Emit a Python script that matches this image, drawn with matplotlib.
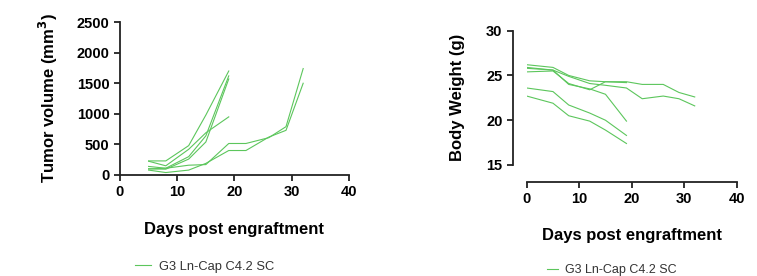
import numpy as np
import matplotlib
matplotlib.use('Agg')
import matplotlib.pyplot as plt
from matplotlib.lines import Line2D

plt.rcParams['font.family'] = ['Liberation Sans', 'DejaVu Sans']

# tumor volume (mm3), one list per mouse
tv_days_short = [5, 8, 12, 15, 19]
tv_days_long = [5, 8, 12, 15, 19, 22, 26, 29, 32]
tv_m1 = [230, 230, 480, 980, 1700]
tv_m2 = [225, 150, 420, 690, 950]
tv_m3 = [140, 110, 300, 640, 1620]
tv_m4 = [100, 95, 260, 540, 1570]
tv_m5 = [80, 40, 80, 190, 400, 400, 620, 730, 1500]
tv_m6 = [100, 110, 160, 170, 515, 515, 610, 790, 1740]

# body weight (g)
bw_days_short = [0, 5, 8, 12, 15, 19]
bw_days_long = [0, 5, 8, 12, 15, 19, 22, 26, 29, 32]
bw_m1 = [26.2, 25.9, 25.0, 24.4, 24.3, 24.3, 24.0, 24.0, 23.1, 22.6]
bw_m2 = [25.8, 25.6, 24.9, 24.1, 23.9, 23.6, 22.4, 22.7, 22.4, 21.6]
bw_m3 = [25.9, 25.6, 24.0, 23.5, 22.9, 19.9]
bw_m4 = [25.4, 25.5, 24.1, 23.4, 24.3, 24.2]
bw_m5 = [23.6, 23.2, 21.7, 20.8, 20.0, 18.3]
bw_m6 = [22.7, 21.9, 20.5, 19.9, 18.9, 17.4]

group_label = 'G3 Ln-Cap C4.2 SC'
green = '#5cc65c'

fig = plt.figure(figsize=(7.57, 2.76), dpi=100)

# left panel - tumor volume
ax1 = fig.add_axes([0.1585, 0.366, 0.3025, 0.554])
for ys in [tv_m1, tv_m2, tv_m3, tv_m4]:
    ax1.plot(tv_days_short, ys, color=green, lw=0.8)
for ys in [tv_m5, tv_m6]:
    ax1.plot(tv_days_long, ys, color=green, lw=0.8)
ax1.set_xlim(0, 40)
ax1.set_ylim(0, 2500)
ax1.set_xticks([0, 10, 20, 30, 40])
ax1.set_yticks([0, 500, 1000, 1500, 2000, 2500])
ax1.set_xlabel('Days post engraftment', fontsize=12, fontweight='bold', labelpad=16)
ax1.set_ylabel('Tumor volume (mm$^\\mathbf{3}$)', fontsize=12, fontweight='bold', labelpad=12)

# right panel - body weight
ax2 = fig.add_axes([0.6958, 0.4022, 0.2774, 0.4866])
for ys in [bw_m1, bw_m2]:
    ax2.plot(bw_days_long, ys, color=green, lw=0.8)
for ys in [bw_m3, bw_m4, bw_m5, bw_m6]:
    ax2.plot(bw_days_short, ys, color=green, lw=0.8)
ax2.set_xlim(0, 40)
ax2.set_ylim(15, 30)
ax2.set_xticks([0, 10, 20, 30, 40])
ax2.set_yticks([15, 20, 25, 30])
ax2.spines['left'].set_position(('outward', 10))
ax2.spines['bottom'].set_position(('outward', 12))
ax2.spines['left'].set_bounds(15, 30)
ax2.spines['bottom'].set_bounds(0, 40)
ax2.set_xlabel('Days post engraftment', fontsize=12, fontweight='bold', labelpad=16)
ax2.set_ylabel('Body Weight (g)', fontsize=12, fontweight='bold', labelpad=15)

for ax in [ax1, ax2]:
    for s in ['top', 'right']:
        ax.spines[s].set_visible(False)
    for s in ['left', 'bottom']:
        ax.spines[s].set_linewidth(1.3)
        ax.spines[s].set_color('#222222')
    ax.tick_params(width=1.3, length=4, labelsize=10.5, color='#222222')
    for lab in ax.get_xticklabels() + ax.get_yticklabels():
        lab.set_fontweight('bold')

handle = [Line2D([0], [0], color=green, lw=0.8)]
fig.legend(handle, [group_label], loc='center left', bbox_to_anchor=(0.163, 0.033),
           frameon=False, fontsize=9.3, handlelength=1.25, handletextpad=0.6,
           labelcolor='#333333')
fig.legend(handle, [group_label], loc='center left', bbox_to_anchor=(0.708, 0.022),
           frameon=False, fontsize=9, handlelength=0.85, handletextpad=0.55,
           labelcolor='#333333')

fig.savefig('out.png', dpi=100)
